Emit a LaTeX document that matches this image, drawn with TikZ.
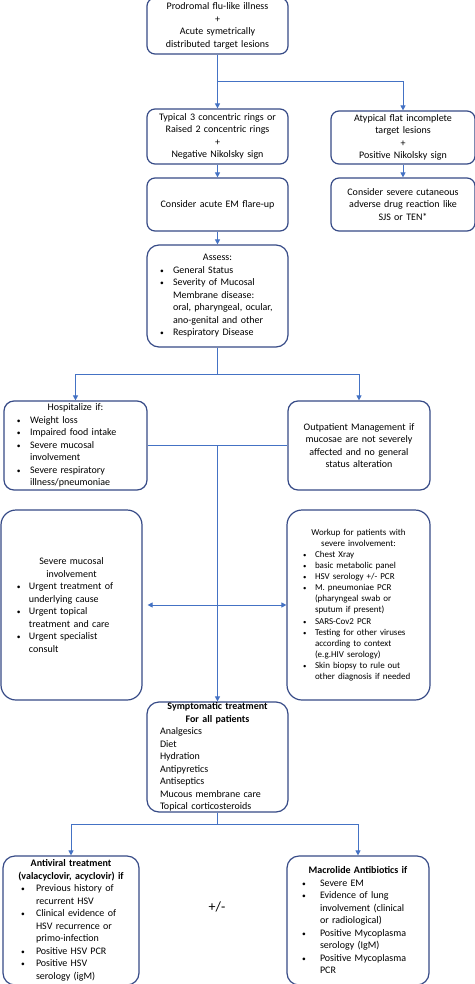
\documentclass[tikz,border=0pt]{standalone}
\usepackage{fontspec}
\setmainfont{Carlito}
\usetikzlibrary{arrows.meta}
\definecolor{lnblue}{HTML}{4472C4}
\definecolor{bxblue}{RGB}{55,75,135}
\newlength\bx \newlength\bg
\newcommand\hd[1]{\makebox[\hsize]{#1}}
\newcommand\bi[1]{\hspace*{\bx}\makebox[\bg][l]{\scalebox{0.75}{\textbullet}}#1}
\newcommand\bc[1]{\hspace*{\bx}\hspace*{\bg}#1}
\tikzset{
  box/.style={draw=bxblue, line width=1.2pt, rounded corners=8pt, inner xsep=0pt, inner ysep=0pt,
    align=left, font=\fontsize{10}{12.5}\selectfont},
  cbox/.style={box, align=center},
  arr/.style={draw=lnblue, line width=1pt, -{Triangle[width=5pt,length=5pt]}},
  arrb/.style={draw=lnblue, line width=1pt, {Triangle[width=5pt,length=5pt]}-{Triangle[width=5pt,length=5pt]}},
  ln/.style={draw=lnblue, line width=1pt}
}
\begin{document}
\begin{tikzpicture}[x=1pt,y=-1pt]
\useasboundingbox (0,0) rectangle (474,984);
\fill[white] (0,0) rectangle (474,984);

\node[cbox, text width=141pt, minimum height=56pt] (b1) at (217.5,26)
  {Prodromal flu-like illness\\+\\Acute symetrically\\distributed target lesions};
\node[cbox, text width=141pt, minimum height=55pt] (b2) at (217.5,136.5)
  {Typical 3 concentric rings or\\Raised 2 concentric rings\\+\\Negative Nikolsky sign};
\node[cbox, text width=144pt, minimum height=53pt] (b3) at (403,137.5)
  {Atypical flat incomplete\\target lesions\\+\\Positive Nikolsky sign};
\node[cbox, text width=141pt, minimum height=53pt] (b4) at (217.5,204.5)
  {Consider acute EM flare-up};
\node[cbox, text width=144pt, minimum height=53pt] (b5) at (403,204.5)
  {Consider severe cutaneous\\adverse drug reaction like\\SJS or TEN*};

\node[box, rounded corners=12pt, text width=141pt, minimum height=102pt] (as) at (217.5,296)
  {\setlength\bx{13pt}\setlength\bg{13pt}%
  \hd{Assess:}\\
  \bi{General Status}\\
  \bi{Severity of Mucosal}\\
  \bc{Membrane disease:}\\
  \bc{oral, pharyngeal, ocular,}\\
  \bc{ano-genital and other}\\
  \bi{Respiratory Disease}};

\node[box, rounded corners=10pt, text width=143pt, minimum height=89pt] (ho) at (75.5,445.5)
  {\setlength\bx{13pt}\setlength\bg{13pt}%
  \hd{Hospitalize if:}\\
  \bi{Weight loss}\\
  \bi{Impaired food intake}\\
  \bi{Severe mucosal}\\
  \bc{involvement}\\
  \bi{Severe respiratory}\\
  \bc{illness/pneumoniae}};
\node[cbox, rounded corners=10pt, text width=142pt, minimum height=89pt] (op) at (359,445.5)
  {Outpatient Management if\\mucosae are not severely\\affected and no general\\status alteration};

\node[box, rounded corners=15pt, text width=141pt, minimum height=190pt] (sv) at (71.5,605)
  {\setlength\bx{16pt}\setlength\bg{12pt}%
  \hd{Severe mucosal}\\
  \hd{involvement}\\
  \bi{Urgent treatment of}\\
  \bc{underlying cause}\\
  \bi{Urgent topical}\\
  \bc{treatment and care}\\
  \bi{Urgent specialist}\\
  \bc{consult}};
\node[box, rounded corners=15pt, text width=143pt, minimum height=190pt,
  font=\fontsize{9}{11.1}\selectfont] (wk) at (358.5,605)
  {\setlength\bx{16pt}\setlength\bg{12pt}%
  \hd{Workup for patients with}\\
  \hd{severe involvement:}\\
  \bi{Chest Xray}\\
  \bi{basic metabolic panel}\\
  \bi{HSV serology +/- PCR}\\
  \bi{M. pneumoniae PCR}\\
  \bc{(pharyngeal swab or}\\
  \bc{sputum if present)}\\
  \bi{SARS-Cov2 PCR}\\
  \bi{Testing for other viruses}\\
  \bc{according to context}\\
  \bc{(e.g.HIV serology)}\\
  \bi{Skin biopsy to rule out}\\
  \bc{other diagnosis if needed}};

\node[box, rounded corners=12pt, text width=141pt, minimum height=110pt] (sy) at (217.5,757)
  {\hd{\bfseries Symptomatic treatment}\\
  \hd{\bfseries For all patients}\\
  \hspace*{13pt}Analgesics\\
  \hspace*{13pt}Diet\\
  \hspace*{13pt}Hydration\\
  \hspace*{13pt}Antipyretics\\
  \hspace*{13pt}Antiseptics\\
  \hspace*{13pt}Mucous membrane care\\
  \hspace*{13pt}Topical corticosteroids};

\node[box, rounded corners=12pt, text width=136pt, minimum height=129pt] (av) at (71,920.5)
  {\setlength\bx{18pt}\setlength\bg{15pt}%
  \hd{\bfseries Antiviral treatment}\\
  \hd{\bfseries (valacyclovir, acyclovir) if}\\
  \bi{Previous history of}\\
  \bc{recurrent HSV}\\
  \bi{Clinical evidence of}\\
  \bc{HSV recurrence or}\\
  \bc{primo-infection}\\
  \bi{Positive HSV PCR}\\
  \bi{Positive HSV}\\
  \bc{serology (igM)}};
\node[box, rounded corners=12pt, text width=142pt, minimum height=129pt] (mc) at (358,920.5)
  {\setlength\bx{15pt}\setlength\bg{18pt}%
  \hd{\bfseries Macrolide Antibiotics if}\\
  \bi{Severe EM}\\
  \bi{Evidence of lung}\\
  \bc{involvement (clinical}\\
  \bc{or radiological)}\\
  \bi{Positive Mycoplasma}\\
  \bc{serology (IgM)}\\
  \bi{Positive Mycoplasma}\\
  \bc{PCR}};

\node[font=\fontsize{14}{16}\selectfont, inner sep=0pt] (pm) at (217,907) {+/-};

% connectors
\coordinate (j1) at (217.5,82);
\draw[arr] (b1.south) -- (b2.north);
\draw[arr] (j1) -| (b3.north);
\draw[arr] (b2.south) -- (b4.north);
\draw[arr] (b3.south) -- (b5.north);
\draw[arr] (b4.south) -- (as.north);

\coordinate (j2) at (217.5,374);
\draw[ln] (as.south) -- (j2);
\draw[arr] (j2) -| (ho.north);
\draw[arr] (j2) -| (op.north);

\coordinate (j3) at (217.5,445.5);
\draw[ln] (ho.east) -- (op.west);
\draw[arr] (j3) -- (sy.north);
\draw[arrb] ([xshift=5pt]sv.east) -- (wk.west);

\coordinate (j4) at (217.5,824);
\draw[ln] (sy.south) -- (j4);
\draw[arr] (j4) -| (av.north);
\draw[arr] (j4) -| (mc.north);
\end{tikzpicture}
\end{document}
